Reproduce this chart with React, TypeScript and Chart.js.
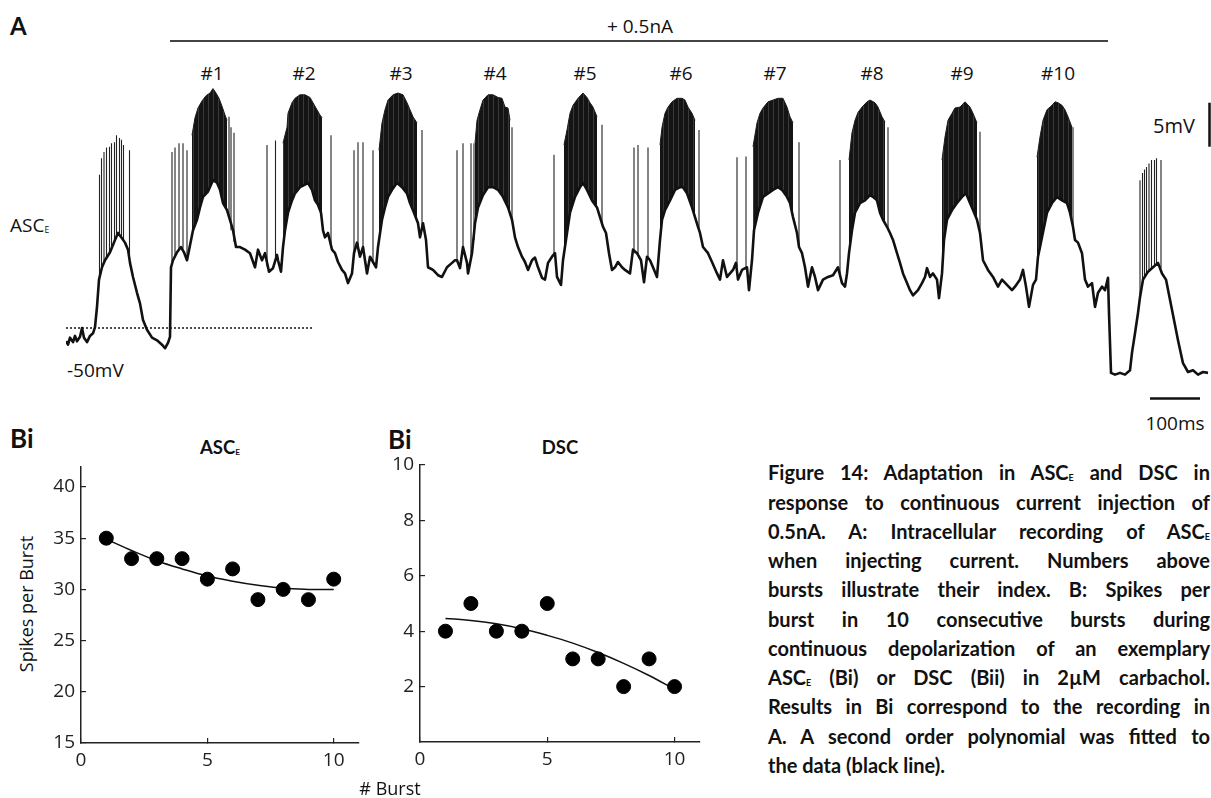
import React, { useEffect, useRef } from 'react';
import { Chart, registerables } from 'chart.js';

Chart.register(...registerables);

const SANS = "'Open Sans', 'DejaVu Sans', sans-serif";
const BOLD = "Lato, 'Open Sans', sans-serif";
const INK = '#111';

// ---------- Panel A: membrane potential (time in ms, voltage in mV) ----------
const trace: [number, number][] = [
  [0,-51.5],[4,-51.9],[8,-51.1],[14,-51.6],[18,-50.9],[22,-51.5],[28,-51.0],[32,-50.0],[36,-51.1],[42,-51.6],[48,-50.9],[54,-50.6],[58,-49.9],[62,-47.6],[66,-44.5],[72,-43.1],[78,-42.3],[88,-41.4],[98,-40.0],[104,-39.2],[112,-39.8],[118,-40.3],[124,-41.1],[128,-42.6],[134,-44.2],[142,-46.0],[148,-47.2],[154,-49.1],[162,-50.2],[172,-51.1],[182,-51.4],[192,-51.9],[198,-52.3],[204,-51.7],[208,-51.0],
  [210,-43.1],[214,-42.3],[222,-41.4],[230,-40.8],[236,-41.4],[242,-42.3],[248,-40.6],[254,-38.9],[262,-37.7],[268,-36.3],[274,-35.1],[284,-34.5],[294,-33.2],[302,-33.5],[308,-34.3],[314,-35.8],[322,-36.6],[330,-38.1],[334,-38.9],[340,-40.8],[348,-40.8],[358,-41.1],[368,-41.5],[378,-43.1],[384,-41.1],[392,-42.3],[398,-41.5],[406,-43.6],[414,-43.2],[422,-41.7],[424,-42.3],[430,-43.6],
  [434,-40.8],[438,-38.9],[444,-36.9],[452,-35.5],[458,-34.7],[468,-34.0],[478,-33.7],[484,-33.5],[492,-34.3],[498,-35.5],[504,-36.0],[510,-36.9],[514,-38.9],[518,-39.7],[524,-39.2],[532,-41.1],[538,-41.5],[544,-42.5],[552,-43.4],[558,-43.8],[564,-44.9],[572,-43.8],[576,-41.5],[582,-40.3],[588,-41.9],[594,-40.8],[602,-43.8],[608,-41.9],[614,-42.5],[620,-43.1],
  [624,-40.8],[632,-37.7],[638,-36.3],[644,-35.1],[652,-34.3],[662,-33.5],[672,-34.0],[682,-34.7],[688,-35.8],[696,-36.9],[704,-38.1],[708,-39.7],[714,-38.1],[720,-40.0],[724,-43.1],[734,-43.4],[744,-44.0],[752,-44.2],[762,-43.1],[772,-42.6],[778,-42.3],[782,-42.3],[788,-43.2],[794,-40.8],[802,-42.6],[804,-43.8],[812,-41.5],
  [818,-38.1],[824,-36.3],[834,-34.9],[844,-34.0],[854,-34.0],[864,-34.3],[874,-35.1],[884,-36.3],[892,-37.7],[898,-39.7],[904,-40.8],[912,-41.9],[918,-42.5],[924,-43.4],[932,-42.3],[938,-42.0],[944,-43.1],[952,-44.3],[958,-44.5],[964,-42.6],[972,-41.9],[978,-41.5],[982,-44.2],[990,-45.1],
  [994,-42.3],[1002,-39.2],[1008,-36.9],[1018,-35.1],[1028,-34.0],[1034,-33.5],[1042,-34.3],[1052,-35.5],[1062,-36.3],[1068,-37.4],[1074,-38.5],[1080,-39.2],[1086,-41.5],[1092,-43.4],[1098,-43.1],[1104,-42.5],[1112,-43.1],[1118,-43.4],[1128,-43.8],[1134,-41.1],[1142,-41.5],[1150,-42.3],[1156,-44.8],[1162,-41.9],[1168,-42.3],[1174,-43.1],[1182,-44.2],
  [1188,-40.0],[1192,-37.7],[1198,-36.6],[1208,-35.5],[1218,-34.3],[1228,-34.0],[1234,-34.0],[1242,-34.7],[1252,-36.3],[1258,-37.4],[1264,-38.5],[1268,-39.2],[1274,-40.8],[1284,-41.5],[1292,-42.5],[1302,-43.8],[1308,-44.5],[1314,-42.3],[1322,-44.2],[1328,-43.8],[1334,-43.4],[1340,-42.6],[1344,-44.5],[1352,-43.4],[1362,-43.1],[1366,-45.7],
  [1372,-42.3],[1376,-38.9],[1384,-36.9],[1394,-35.1],[1404,-34.7],[1414,-34.3],[1424,-34.0],[1432,-34.3],[1442,-35.1],[1448,-35.8],[1454,-37.4],[1462,-39.2],[1466,-40.8],[1472,-41.5],[1478,-43.1],[1484,-45.3],[1492,-43.1],[1498,-44.2],[1504,-45.7],[1514,-44.5],[1524,-44.2],[1534,-44.0],[1544,-43.1],[1552,-44.9],[1558,-45.3],[1562,-43.8],
  [1566,-41.5],[1572,-38.9],[1578,-36.9],[1588,-35.8],[1598,-35.5],[1608,-34.9],[1614,-35.1],[1622,-35.5],[1628,-36.9],[1634,-37.7],[1642,-38.5],[1648,-39.2],[1654,-40.0],[1662,-41.5],[1668,-42.6],[1674,-43.8],[1682,-44.9],[1688,-45.7],[1694,-46.3],[1704,-45.7],[1712,-44.9],[1718,-44.2],[1722,-43.2],[1728,-44.2],[1734,-43.8],[1742,-44.5],[1746,-46.6],
  [1752,-43.8],[1756,-40.0],[1762,-37.7],[1772,-36.6],[1782,-35.8],[1792,-35.1],[1800,-34.7],[1808,-35.8],[1814,-36.6],[1822,-37.7],[1828,-39.2],[1834,-42.3],[1844,-43.4],[1854,-44.2],[1864,-45.3],[1872,-44.5],[1882,-45.1],[1892,-45.7],[1898,-45.3],[1908,-44.5],[1914,-43.4],[1920,-45.3],[1926,-47.6],[1934,-45.1],[1940,-44.5],
  [1944,-41.9],[1952,-39.7],[1962,-36.9],[1972,-35.8],[1982,-35.1],[1992,-35.5],[2002,-35.8],[2008,-36.9],[2014,-38.5],[2018,-40.0],[2024,-40.3],[2032,-41.5],[2038,-44.5],[2044,-45.3],[2052,-44.9],[2058,-47.6],[2064,-46.0],[2072,-45.3],[2078,-45.7],[2084,-44.3],[2086,-48.3],
  [2090,-55.1],[2098,-55.3],[2108,-55.1],[2118,-55.3],[2128,-54.8],[2132,-52.8],[2138,-50.6],[2144,-48.3],[2148,-46.5],[2154,-44.5],[2164,-43.6],[2174,-43.1],[2184,-42.6],[2192,-43.8],[2200,-44.5],[2208,-46.8],[2216,-49.1],[2224,-51.4],[2234,-54.0],[2244,-55.0],[2254,-54.8],[2264,-55.3],[2274,-55.0],[2284,-55.1],
];

// upper envelope of spike peaks in the dense part of each burst (#1..#10)
const burstEnvelopes: [number, number][][] = [
  [[252,-28.1],[258,-26.1],[264,-25.0],[272,-24.2],[280,-23.6],[288,-23.3],[294,-22.8],[300,-23.3],[306,-23.9],[312,-24.8],[318,-25.8],[322,-26.4]],
  [[434,-29.0],[442,-27.2],[444,-25.6],[452,-24.4],[458,-23.9],[468,-23.5],[478,-23.5],[488,-23.8],[494,-24.4],[502,-25.2],[508,-25.8],[512,-26.1]],
  [[626,-29.8],[632,-26.7],[638,-25.2],[644,-24.1],[654,-23.5],[664,-23.3],[674,-23.5],[682,-24.4],[688,-25.2],[694,-26.0],[702,-26.7]],
  [[818,-29.0],[822,-26.4],[828,-25.2],[834,-24.1],[844,-23.5],[854,-23.5],[864,-23.8],[872,-23.9],[878,-24.9],[884,-25.0],[888,-26.4]],
  [[996,-29.2],[1002,-27.5],[1008,-25.6],[1014,-24.7],[1024,-23.9],[1034,-23.3],[1042,-23.8],[1048,-24.4],[1054,-24.9],[1062,-26.0]],
  [[1188,-29.2],[1192,-27.2],[1198,-25.6],[1204,-24.9],[1212,-24.3],[1222,-23.9],[1232,-23.9],[1238,-24.1],[1244,-24.9],[1252,-25.6],[1258,-26.4]],
  [[1374,-29.4],[1382,-26.7],[1388,-25.6],[1394,-25.0],[1404,-24.3],[1414,-24.1],[1424,-23.9],[1434,-23.9],[1442,-24.9],[1448,-26.0],[1454,-26.7]],
  [[1566,-30.9],[1572,-27.8],[1578,-26.4],[1584,-25.5],[1592,-24.9],[1602,-24.3],[1608,-24.1],[1618,-24.4],[1624,-24.9],[1632,-26.0],[1638,-26.6]],
  [[1752,-30.9],[1758,-28.3],[1764,-26.4],[1772,-25.6],[1778,-25.0],[1788,-24.9],[1798,-24.3],[1808,-24.9],[1814,-25.6],[1822,-26.7]],
  [[1942,-30.6],[1948,-28.3],[1954,-26.4],[1962,-25.2],[1972,-24.7],[1978,-24.3],[1984,-24.4],[1992,-24.7],[1998,-25.2],[2004,-26.0],[2012,-27.2]],
];

// isolated spikes: [time ms, foot mV, peak mV]
const spikes: [number, number, number][] = [
  [67,-44.3,-32.6],[71,-43.2,-30.7],[76,-42.5,-30.0],[81,-42.0,-29.5],[87,-41.5,-29.4],[91,-41.1,-29.0],[97,-40.2,-28.9],[101,-39.5,-28.1],[107,-39.3,-28.4],[111,-39.8,-28.6],[115,-40.0,-29.2],[127,-41.7,-29.8],
  [212,-42.5,-30.0],[218,-42.0,-29.5],[226,-41.2,-29.0],[234,-41.0,-29.0],[242,-42.3,-29.8],
  [326,-37.5,-26.0],[330,-38.9,-27.2],[336,-40.2,-27.8],
  [402,-43.0,-29.2],[419,-42.0,-28.7],[530,-40.5,-28.1],
  [576,-41.5,-29.8],[584,-41.0,-28.9],[594,-40.8,-28.9],[614,-42.5,-29.8],[712,-38.5,-27.5],
  [782,-42.3,-29.8],[794,-40.8,-29.0],[810,-42.0,-29.0],[816,-40.0,-29.0],[892,-37.7,-27.2],
  [976,-41.5,-30.3],[1072,-38.0,-26.9],
  [1136,-41.5,-29.5],[1144,-41.8,-29.2],[1164,-42.0,-29.5],[1266,-39.0,-27.5],
  [1342,-43.0,-30.6],[1360,-43.0,-30.5],[1466,-40.8,-28.9],
  [1548,-44.0,-30.9],[1644,-38.8,-27.2],
  [1828,-39.2,-27.7],[2014,-38.5,-27.2],
  [2148,-46.5,-33.2],[2153,-45.1,-32.4],[2157,-44.3,-32.0],[2161,-43.9,-31.7],[2166,-43.6,-31.3],[2171,-43.2,-30.9],[2177,-43.1,-30.9],[2181,-42.8,-30.7],[2190,-43.2,-30.9],
];

const holdingT = [0, 494];
const holdingV = -50;
const mvBarT = 2287;
const mvBarV = [-29.4, -24.4]; // 5 mV
const msBarT = [2168, 2268]; // 100 ms
const msBarV = -58.0;

const burstLabels = ['#1', '#2', '#3', '#4', '#5', '#6', '#7', '#8', '#9', '#10'];

// ---------- Panel B ----------
const burstIndex = [1, 2, 3, 4, 5, 6, 7, 8, 9, 10];
const ascSpikes = [35, 33, 33, 33, 31, 32, 29, 30, 29, 31];
const dscSpikes = [4, 5, 4, 4, 5, 3, 3, 2, 3, 2];
const ascFit = [34.9, 33.8, 32.8, 32.0, 31.3, 30.8, 30.4, 30.1, 30.0, 30.0];
const dscFit = [4.46, 4.39, 4.27, 4.09, 3.85, 3.57, 3.23, 2.84, 2.40, 1.90];
const xTickValues = [0, 5, 10];
const ascYTicks = [15, 20, 25, 30, 35, 40];
const dscYTicks = [2, 4, 6, 8, 10];

const captionLines = [
  'Figure 14: Adaptation in ASC_E and DSC in',
  'response to continuous current injection of',
  '0.5nA. A: Intracellular recording of ASC_E',
  'when injecting current. Numbers above',
  'bursts illustrate their index. B: Spikes per',
  'burst in 10 consecutive bursts during',
  'continuous depolarization of an exemplary',
  'ASC_E (Bi) or DSC (Bii) in 2µM carbachol.',
  'Results in Bi correspond to the recording in',
  'A. A second order polynomial was fitted to',
  'the data (black line).',
];

// ---------- layout ----------
const TRACE_BOX = { left: 66, top: 80, width: 1146, height: 325 };
const T_MAX = 2292;
const V_MIN = -58.75;
const V_MAX = -21.82;
const LABEL_X = [212, 304, 401, 495, 585, 681, 775, 872, 962, 1058];

Chart.defaults.font.family = SANS;

function useChart(ref: React.RefObject<HTMLCanvasElement>, make: () => any) {
  useEffect(() => {
    const chart = new Chart(ref.current as HTMLCanvasElement, make());
    return () => chart.destroy();
  }, []);
}

function burstPattern(): CanvasPattern | string {
  try {
    const c = document.createElement('canvas');
    c.width = 5;
    c.height = 4;
    const g = c.getContext('2d') as CanvasRenderingContext2D;
    g.fillStyle = '#141414';
    g.fillRect(0, 0, 5, 4);
    g.fillStyle = '#3a3a3a';
    g.fillRect(2, 0, 1, 4);
    return g.createPattern(c, 'repeat') as CanvasPattern;
  } catch (e) {
    return '#1b1b1b';
  }
}

function Sub({ text }: { text: string }) {
  const parts = text.split('_E');
  return (
    <>
      {parts.map((p, i) => (
        <React.Fragment key={i}>
          {p}
          {i < parts.length - 1 && (
            <span style={{ fontSize: '0.45em', verticalAlign: '-0.12em' }}>E</span>
          )}
        </React.Fragment>
      ))}
    </>
  );
}

function Label({ x, y, children, size = 19, weight = 400, family = SANS, anchor = 'left', rotate = 0 }: any) {
  const tx = anchor === 'center' ? '-50%' : anchor === 'right' ? '-100%' : '0';
  return (
    <div
      style={{
        position: 'absolute', left: x, top: y,
        transform: `translate(${tx}, -50%)${rotate ? ` rotate(${rotate}deg)` : ''}`,
        transformOrigin: anchor === 'center' ? '50% 50%' : '0 50%',
        fontSize: size, fontWeight: weight, fontFamily: family, lineHeight: 1,
        whiteSpace: 'nowrap', color: INK,
      }}
    >
      {children}
    </div>
  );
}

function TraceChart() {
  const ref = useRef<HTMLCanvasElement>(null);
  useChart(ref, () => {
    const base = trace.map(([x, y]) => ({ x, y }));
    const env: any[] = [];
    burstEnvelopes.forEach((b) => {
      b.forEach(([x, y]) => env.push({ x, y }));
      env.push({ x: b[b.length - 1][0], y: null });
    });
    const spk: any[] = [];
    spikes.forEach(([t, foot, peak]) => {
      spk.push({ x: t, y: foot }, { x: t, y: peak }, { x: t, y: null });
    });
    return {
      type: 'line',
      data: {
        datasets: [
          { data: base, borderColor: INK, borderWidth: 2.6, pointRadius: 0, tension: 0, clip: false, borderJoinStyle: 'round' },
          { data: env, borderColor: '#1b1b1b', backgroundColor: burstPattern(), borderWidth: 1, pointRadius: 0, tension: 0, fill: { target: 0 }, spanGaps: false, clip: false },
          { data: spk, borderColor: '#222', borderWidth: 1.1, pointRadius: 0, tension: 0, spanGaps: false, clip: false, fill: false },
          { data: holdingT.map((t) => ({ x: t, y: holdingV })), borderColor: '#222', borderWidth: 1.6, borderDash: [2, 2], pointRadius: 0, fill: false },
          { data: mvBarV.map((v) => ({ x: mvBarT, y: v })), borderColor: INK, borderWidth: 2.5, pointRadius: 0, clip: false, fill: false },
          { data: msBarT.map((t) => ({ x: t, y: msBarV })), borderColor: INK, borderWidth: 2.5, pointRadius: 0, clip: false, fill: false },
        ],
      },
      options: {
        responsive: false, animation: false, devicePixelRatio: 1, events: [],
        layout: { padding: 0 },
        plugins: { legend: { display: false }, tooltip: { enabled: false } },
        scales: {
          x: { type: 'linear', min: 0, max: T_MAX, display: false },
          y: { type: 'linear', min: V_MIN, max: V_MAX, display: false },
        },
      },
    };
  });
  return (
    <canvas
      ref={ref}
      width={TRACE_BOX.width}
      height={TRACE_BOX.height}
      style={{ position: 'absolute', left: TRACE_BOX.left, top: TRACE_BOX.top, width: TRACE_BOX.width, height: TRACE_BOX.height }}
    />
  );
}

function ScatterPanel({ box, values, fit, yMin, yMax, yTicks, pad, yW, xH }: any) {
  const ref = useRef<HTMLCanvasElement>(null);
  useChart(ref, () => {
    const axisCommon = {
      type: 'linear',
      grid: { display: true, drawOnChartArea: false, drawTicks: true, tickLength: -5, color: '#222', lineWidth: 1.2 },
      border: { display: true, color: '#222', width: 1.5 },
      ticks: { padding: 11, color: '#222', font: { family: SANS, size: 19 }, maxRotation: 0, autoSkip: false },
    };
    return {
      type: 'scatter',
      data: {
        datasets: [
          { data: burstIndex.map((x, i) => ({ x, y: values[i] })), backgroundColor: '#000', borderColor: '#000', pointRadius: 7, pointHoverRadius: 7 },
          { data: burstIndex.map((x, i) => ({ x, y: fit[i] })), showLine: true, borderColor: INK, borderWidth: 1.5, pointRadius: 0, tension: 0.4, fill: false },
        ],
      },
      options: {
        responsive: false, animation: false, devicePixelRatio: 1, events: [],
        layout: { padding: pad },
        plugins: { legend: { display: false }, tooltip: { enabled: false } },
        scales: {
          x: {
            ...axisCommon, min: 0, max: 11,
            afterBuildTicks: (s: any) => { s.ticks = xTickValues.map((v) => ({ value: v })); },
            afterFit: (s: any) => { s.height = xH; },
          },
          y: {
            ...axisCommon, min: yMin, max: yMax,
            afterBuildTicks: (s: any) => { s.ticks = yTicks.map((v: number) => ({ value: v })); },
            afterFit: (s: any) => { s.width = yW; },
          },
        },
      },
    };
  });
  return (
    <canvas
      ref={ref}
      width={box.width}
      height={box.height}
      style={{ position: 'absolute', left: box.left, top: box.top, width: box.width, height: box.height }}
    />
  );
}

function captionFontSize() {
  try {
    const ctx = document.createElement('canvas').getContext('2d') as CanvasRenderingContext2D;
    ctx.font = `700 20px Lato`;
    let max = 0;
    captionLines.slice(0, -1).forEach((l) => {
      max = Math.max(max, ctx.measureText(l.replace(/_E/g, 'E')).width);
    });
    return Math.min(20, (20 * 436) / max);
  } catch (e) {
    return 18;
  }
}

export default function App() {
  useEffect(() => {
    document.body.style.margin = '0';
    document.body.style.background = '#fff';
  }, []);
  const fs = captionFontSize();
  const capBase0 = 480;
  const capStep = 29.25;
  return (
    <div style={{ position: 'absolute', left: 0, top: 0, width: 1211, height: 798, background: '#fff', overflow: 'hidden' }}>
      {/* Panel A */}
      <Label x={10} y={26} size={24} weight={700} family={BOLD}>A</Label>
      <Label x={640} y={26} size={19} anchor="center">+ 0.5nA</Label>
      <div style={{ position: 'absolute', left: 170, top: 40, width: 938, height: 1.5, background: '#444' }} />
      {burstLabels.map((l, i) => (
        <Label key={l} x={LABEL_X[i]} y={72.5} size={19} anchor="center">{l}</Label>
      ))}
      <Label x={10} y={225} size={19}><Sub text="ASC_E" /></Label>
      <Label x={67} y={370} size={19}>-50mV</Label>
      <Label x={1153} y={126} size={20}>5mV</Label>
      <Label x={1175} y={423} size={19} anchor="center">100ms</Label>
      <TraceChart />

      {/* Panel Bi : ASC_E */}
      <Label x={10} y={437.5} size={26} weight={700} family={BOLD}>Bi</Label>
      <Label x={220} y={447} size={18.5} weight={700} family={BOLD} anchor="center"><Sub text="ASC_E" /></Label>
      <Label x={26} y={604} size={18} anchor="center" rotate={-90}>Spikes per Burst</Label>
      <ScatterPanel
        box={{ left: 0, top: 440, width: 380, height: 340 }}
        values={ascSpikes} fit={ascFit} yMin={15} yMax={42} yTicks={ascYTicks}
        pad={{ top: 26.5, right: 21, left: 0, bottom: 0 }} yW={81} xH={37}
      />

      {/* Panel Bi : DSC */}
      <Label x={388} y={438.5} size={26} weight={700} family={BOLD}>Bi</Label>
      <Label x={560} y={447} size={18.5} weight={700} family={BOLD} anchor="center">DSC</Label>
      <ScatterPanel
        box={{ left: 370, top: 440, width: 350, height: 340 }}
        values={dscSpikes} fit={dscFit} yMin={0} yMax={10} yTicks={dscYTicks}
        pad={{ top: 25, right: 20, left: 0, bottom: 0 }} yW={50} xH={38}
      />
      <Label x={390} y={788} size={18} anchor="center"># Burst</Label>

      {/* Caption */}
      {captionLines.map((line, i) => {
        const last = i === captionLines.length - 1;
        return (
          <div
            key={i}
            style={{
              position: 'absolute', left: 768, top: capBase0 + i * capStep - 0.887 * fs, width: 442,
              fontFamily: BOLD, fontWeight: 700, fontSize: fs, lineHeight: 1, color: INK,
              textAlign: last ? 'left' : 'justify', textAlignLast: last ? 'left' : 'justify',
            } as any}
          >
            <Sub text={line} />
          </div>
        );
      })}
    </div>
  );
}
